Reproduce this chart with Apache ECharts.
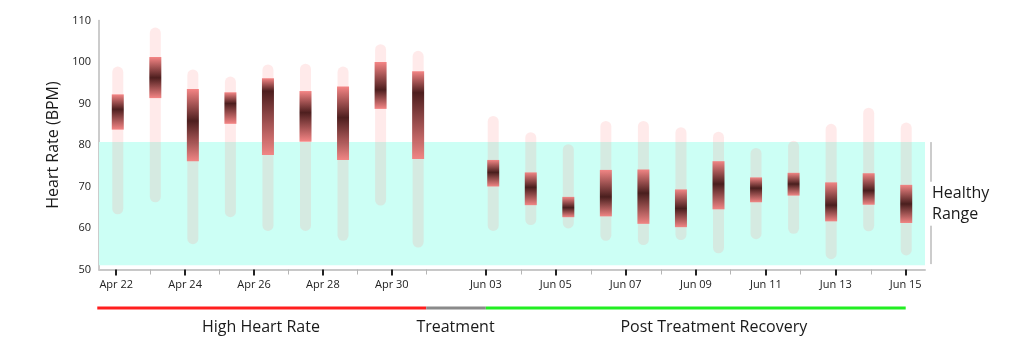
<!DOCTYPE html>
<html>
<head>
<meta charset="utf-8">
<script src="https://cdn.jsdelivr.net/npm/echarts@6/dist/echarts.min.js"></script>
<style>html,body{margin:0;padding:0;background:#fff}#c{width:1024px;height:351px}</style>
</head>
<body>
<div id="c"></div>
<script>
// ---- data ----
const slots = ['Apr 22','Apr 23','Apr 24','Apr 25','Apr 26','Apr 27','Apr 28','Apr 29','Apr 30','',
  'Jun 03','Jun 04','Jun 05','Jun 06','Jun 07','Jun 08','Jun 09','Jun 10','Jun 11','Jun 12','Jun 13','Jun 14'];
const barDates = ['Apr 22','Apr 23','Apr 24','Apr 25','Apr 26','Apr 27','Apr 28','Apr 29','Apr 30',
  'Jun 03','Jun 04','Jun 05','Jun 06','Jun 07','Jun 08','Jun 09','Jun 10','Jun 11','Jun 12','Jun 13','Jun 14'];
const rangeLow  = [63.3,66.2,56.1,62.6,59.3,59.3,56.9,65.4,55.3, 59.3,60.7,59.9,56.9,55.9,57.1,53.9,57.3,58.6,52.5,59.2,53.4];
const boxLow    = [83.7,91.3,76.1,85.1,77.6,80.8,76.4,88.7,76.6, 70.0,65.5,62.6,62.8,61.0,60.2,64.5,66.2,67.8,61.6,65.6,61.2];
const median    = [88.6,96.2,85.8,90.0,93.0,87.8,86.6,93.3,92.6, 73.4,69.8,64.9,67.5,68.4,64.7,70.6,69.6,70.6,65.5,69.0,65.8];
const boxHigh   = [92.2,101.2,93.5,92.7,96.1,93.0,94.1,100.0,97.8, 76.4,73.4,67.5,74.0,74.1,69.3,76.1,72.2,73.3,71.0,73.2,70.4];
const rangeHigh = [98.9,108.3,98.2,96.5,99.4,99.6,98.9,104.3,102.7, 87.0,83.1,80.2,85.8,85.8,84.3,83.2,79.3,81.0,85.1,89.0,85.4];

const yTicks = {min: 50, max: 110, interval: 10};
const bandLow = 51, bandHigh = 80.7;
const bandLabel = 'Healthy\nRange';

// date tick axis (compressed day index)
const tickLabels = ['Apr 22','Apr 23','Apr 24','Apr 25','Apr 26','Apr 27','Apr 28','Apr 29','Apr 30','May 01',
  'Jun 03','Jun 04','Jun 05','Jun 06','Jun 07','Jun 08','Jun 09','Jun 10','Jun 11','Jun 12','Jun 13','Jun 14','Jun 15'];
const tickAt = [0,1,2,3,4,5,6,7,8,9,
  10.73,11.75,12.76,13.78,14.79,15.81,16.83,17.84,18.86,19.87,20.89,21.91,22.92];
const labelledTicks = ['Apr 22','Apr 24','Apr 26','Apr 28','Apr 30',
  'Jun 03','Jun 05','Jun 07','Jun 09','Jun 11','Jun 13','Jun 15'];
const tickMin = -0.5, tickMax = 23.48;

const phaseNames = ['High Heart Rate','Treatment','Post Treatment Recovery'];
const phaseFrom = [-0.55, 9, 10.73];
const phaseTo = [9, 10.73, 22.92];
const phaseLabelAt = [4.2, 9.85, 17.35];
const phaseColors = ['#ff1e1e','#8a8a8a','#22ee22'];

// ---- build ----
const FONT = '"Open Sans", sans-serif';
const TEXT = '#1a1a1a';
const majorPos = tickAt.filter((p, i) => labelledTicks.includes(tickLabels[i]));
const minorPos = tickAt.filter((p, i) => !labelledTicks.includes(tickLabels[i]));
function tickName(v) {
  const i = tickAt.findIndex(p => Math.abs(p - v) < 1e-6);
  return i >= 0 ? tickLabels[i] : '';
}

const barData = barDates.map((d, i) => [slots.indexOf(d), rangeLow[i], boxLow[i], median[i], boxHigh[i], rangeHigh[i]]);

function renderItem(params, api) {
  const x = api.value(0);
  const pLow = api.coord([x, api.value(1)]);
  const pQ1 = api.coord([x, api.value(2)]);
  const pMed = api.coord([x, api.value(3)]);
  const pQ3 = api.coord([x, api.value(4)]);
  const pHigh = api.coord([x, api.value(5)]);
  const cx = pLow[0];
  const wW = 11, bW = 12;
  const bh = pQ1[1] - pQ3[1];
  const t = Math.max(0, Math.min(1, (pMed[1] - pQ3[1]) / bh));
  const light = '#f47a7a', dark = '#3a0808';
  return {
    type: 'group',
    children: [
      {
        type: 'rect',
        shape: {x: cx - wW / 2, y: pHigh[1], width: wW, height: pLow[1] - pHigh[1], r: wW / 2},
        style: {fill: 'rgba(255,140,140,0.18)'}
      },
      {
        type: 'rect',
        shape: {x: cx - bW / 2, y: pQ3[1], width: bW, height: bh},
        style: {
          opacity: 0.9,
          fill: new echarts.graphic.LinearGradient(0, 0, 0, 1, [
            {offset: 0, color: light},
            {offset: t, color: dark},
            {offset: 1, color: light}
          ])
        }
      }
    ]
  };
}

const mid = (bandLow + bandHigh) / 2;
const gapHalf = 5.3;

const series = [
  {
    type: 'line', xAxisIndex: 0, yAxisIndex: 0, data: [], silent: true, z: 1,
    markArea: {
      silent: true,
      itemStyle: {color: '#ccfff5'},
      data: [[{yAxis: bandLow}, {yAxis: bandHigh}]]
    }
  },
  {
    type: 'custom', xAxisIndex: 0, yAxisIndex: 0, z: 5,
    renderItem: renderItem,
    encode: {x: 0, y: [1, 5]},
    data: barData
  }
];
phaseNames.forEach((n, i) => {
  series.push({
    type: 'line', xAxisIndex: 3, yAxisIndex: 1, symbol: 'none', clip: false, silent: true,
    lineStyle: {color: phaseColors[i], width: 3},
    data: [[phaseFrom[i], 0.5], [phaseTo[i], 0.5]]
  });
});
series.push({
  type: 'scatter', xAxisIndex: 3, yAxisIndex: 1, symbolSize: 0, silent: true, clip: false,
  itemStyle: {opacity: 1},
  data: phaseNames.map((n, i) => ({value: [phaseLabelAt[i], 0.5], name: n})),
  label: {show: true, position: 'inside', offset: [0, 19.5], formatter: p => p.name,
    fontSize: 16, color: TEXT, fontFamily: FONT, textBorderWidth: 0}
});
// bracket
series.push({
  type: 'line', xAxisIndex: 4, yAxisIndex: 2, symbol: 'none', clip: false, silent: true,
  lineStyle: {color: '#999', width: 1},
  data: [[0, bandHigh], [0, mid + gapHalf]]
});
series.push({
  type: 'line', xAxisIndex: 4, yAxisIndex: 2, symbol: 'none', clip: false, silent: true,
  lineStyle: {color: '#999', width: 1},
  data: [[0, mid - gapHalf], [0, bandLow + 0.3]]
});
series.push({
  type: 'scatter', xAxisIndex: 4, yAxisIndex: 2, symbolSize: 0, silent: true, clip: false,
  itemStyle: {opacity: 1},
  data: [{value: [0, mid], name: bandLabel}],
  label: {show: true, position: 'right', distance: 1, formatter: p => p.name, align: 'left',
    fontSize: 16, lineHeight: 21, color: TEXT, fontFamily: FONT}
});

const option = {
  animation: false,
  backgroundColor: '#fff',
  grid: [
    {left: 99, width: 826, top: 20.5, height: 249},
    {left: 99, width: 826, top: 300, height: 16},
    {left: 931, width: 1, top: 20.5, height: 249}
  ],
  xAxis: [
    {type: 'category', gridIndex: 0, data: slots, boundaryGap: true, show: false},
    {
      type: 'value', gridIndex: 0, min: tickMin, max: tickMax, position: 'bottom',
      axisLine: {show: true, onZero: false, lineStyle: {color: '#c8c8c8', width: 2}},
      axisTick: {show: true, customValues: majorPos, length: 6, lineStyle: {color: '#222', width: 2}},
      axisLabel: {show: true, customValues: majorPos, formatter: tickName, fontSize: 11,
        color: '#222', margin: 10, fontFamily: FONT},
      splitLine: {show: false}
    },
    {
      type: 'value', gridIndex: 0, min: tickMin, max: tickMax, position: 'bottom',
      axisLine: {show: false, onZero: false},
      axisTick: {show: true, customValues: minorPos, length: 5, lineStyle: {color: '#b5b5b5', width: 1}},
      axisLabel: {show: false},
      splitLine: {show: false}
    },
    {type: 'value', gridIndex: 1, min: tickMin, max: tickMax, show: false},
    {type: 'value', gridIndex: 2, min: 0, max: 1, show: false}
  ],
  yAxis: [
    {
      type: 'value', gridIndex: 0, min: yTicks.min, max: yTicks.max, interval: yTicks.interval,
      name: 'Heart Rate (BPM)', nameLocation: 'middle', nameGap: 36,
      nameTextStyle: {fontSize: 16, color: TEXT, fontFamily: FONT},
      axisLine: {show: true, onZero: false, lineStyle: {color: '#bbb', width: 1.5}},
      axisTick: {show: false},
      splitLine: {show: false},
      axisLabel: {fontSize: 11, color: '#222', margin: 8, fontFamily: FONT}
    },
    {type: 'value', gridIndex: 1, min: 0, max: 1, show: false},
    {type: 'value', gridIndex: 2, min: yTicks.min, max: yTicks.max, show: false}
  ],
  series: series
};

const chart = echarts.init(document.getElementById('c'), null, {renderer: 'canvas'});
chart.setOption(option);
</script>
</body>
</html>
